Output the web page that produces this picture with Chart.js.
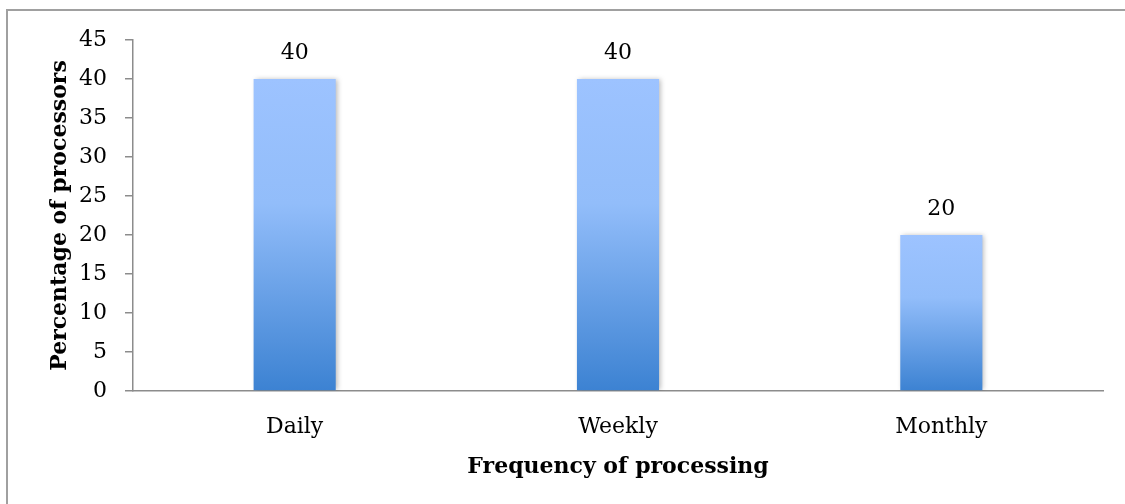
<!DOCTYPE html>
<html>
<head>
<meta charset="utf-8">
<script src="https://cdn.jsdelivr.net/npm/chart.js@4/dist/chart.umd.min.js"></script>
<style>
  html, body { margin: 0; padding: 0; background: #fff; }
  #wrap { position: relative; width: 1125px; height: 504px; overflow: hidden; }
  #frame { position: absolute; left: 6px; top: 9px; width: 1200px; height: 600px;
           border-left: 2px solid #a0a0a0; border-top: 2px solid #a0a0a0; box-sizing: border-box; }
  canvas { position: absolute; left: 0; top: 0; }
</style>
</head>
<body>
<div id="wrap">
  <div id="frame"></div>
  <canvas id="c" width="1125" height="504"></canvas>
</div>
<script>
const categories = ["Daily", "Weekly", "Monthly"];
const percentages = [40, 40, 20];
const yTicks = [0, 5, 10, 15, 20, 25, 30, 35, 40, 45];
const xTitle = "Frequency of processing";
const yTitle = "Percentage of processors";

const FONT = "'DejaVu Serif', serif";

function barGradient(ctx) {
  const chart = ctx.chart;
  const ys = chart.scales && chart.scales.y;
  if (!chart.chartArea || !ys) return '#8ab7f5';
  const v = ctx.raw;
  const top = ys.getPixelForValue(v);
  const bot = ys.getPixelForValue(0);
  const g = chart.ctx.createLinearGradient(0, top, 0, bot);
  g.addColorStop(0, 'rgb(157,195,255)');
  g.addColorStop(0.4, 'rgb(146,189,250)');
  g.addColorStop(1, 'rgb(60,130,210)');
  return g;
}

const shadowPlugin = {
  id: 'barShadow',
  beforeDatasetsDraw(chart) {
    const c = chart.ctx;
    c.save();
    c.shadowColor = 'rgba(0,0,0,0.28)';
    c.shadowBlur = 5;
    c.shadowOffsetX = 2;
    c.shadowOffsetY = 0;
  },
  afterDatasetsDraw(chart) {
    chart.ctx.restore();
  }
};

const labelPlugin = {
  id: 'valueLabels',
  afterDatasetsDraw(chart) {
    const c = chart.ctx;
    const meta = chart.getDatasetMeta(0);
    c.save();
    c.font = "22px " + FONT;
    c.fillStyle = '#000';
    c.textAlign = 'center';
    c.textBaseline = 'middle';
    meta.data.forEach((el, i) => {
      c.fillText(String(chart.data.datasets[0].data[i]), el.x, el.y - 26);
    });
    c.restore();
  }
};

new Chart(document.getElementById('c'), {
  type: 'bar',
  data: {
    labels: categories,
    datasets: [{
      data: percentages,
      backgroundColor: barGradient,
      borderWidth: 0,
      categoryPercentage: 1,
      barPercentage: 0.254
    }]
  },
  options: {
    responsive: false,
    animation: false,
    devicePixelRatio: 1,
    layout: { padding: { left: 0, top: 40, right: 22, bottom: 0 } },
    plugins: { legend: { display: false }, tooltip: { enabled: false } },
    scales: {
      x: {
        grid: { display: false, drawTicks: false },
        border: { display: true, color: '#8c8c8c', width: 1.5 },
        ticks: { color: '#000', font: { family: FONT, size: 22 }, padding: 23 },
        title: { display: true, text: xTitle, color: '#000',
                 font: { family: FONT, size: 22, weight: 'bold' }, padding: { top: 0, bottom: 24 } },
        afterFit(scale) { scale.height = 113; }
      },
      y: {
        min: 0, max: 45,
        afterBuildTicks(scale) { scale.ticks = yTicks.map(v => ({ value: v })); },
        grid: { display: true, drawOnChartArea: false, drawTicks: true, tickLength: 8, color: '#8c8c8c', lineWidth: 1.5 },
        border: { display: true, color: '#8c8c8c', width: 1.5 },
        ticks: { color: '#000', font: { family: FONT, size: 22 }, padding: 18 },
        title: { display: true, text: yTitle, color: '#000',
                 font: { family: FONT, size: 22, weight: 'bold' }, padding: { top: 47, bottom: 0 } },
        afterFit(scale) { scale.width = 133; }
      }
    }
  },
  plugins: [shadowPlugin, labelPlugin]
});
</script>
</body>
</html>
